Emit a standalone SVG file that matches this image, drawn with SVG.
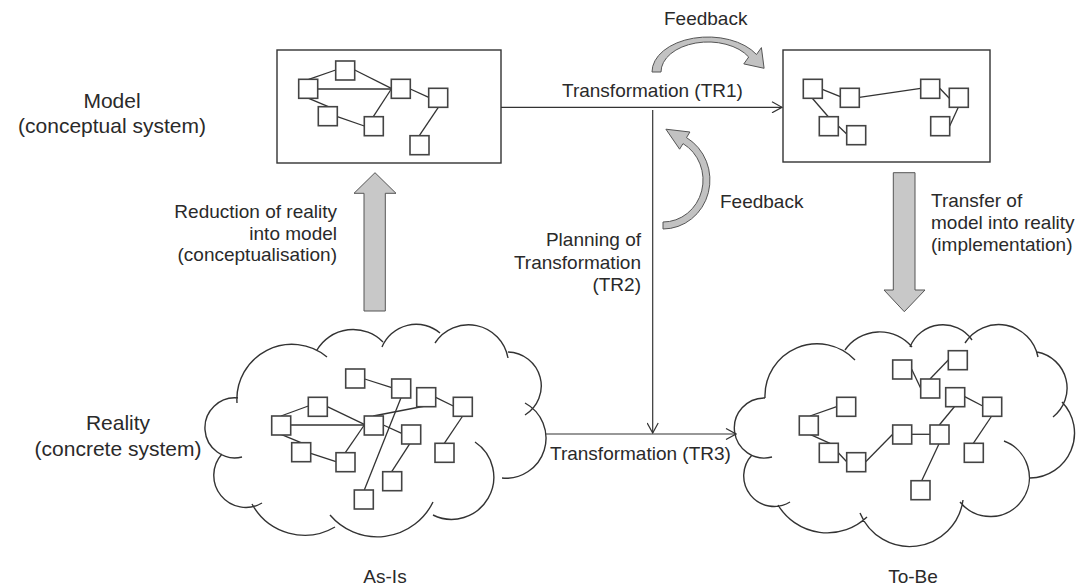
<svg xmlns="http://www.w3.org/2000/svg" width="1086" height="587" viewBox="0 0 1086 587">
<defs>
<style>
text{font-family:"Liberation Sans",Arial,sans-serif;font-size:19px;fill:#2a2a2a}
.lbl{font-size:21px}
.box{fill:#fff;stroke:#333;stroke-width:1.4}
.sq{fill:#fff;stroke:#444;stroke-width:1.6}
.ln{stroke:#333;stroke-width:1.3;fill:none}
.cloud{fill:none;stroke:#333;stroke-width:1.4}
.big{fill:#c8c8c8;stroke:#555;stroke-width:1}
.fb{fill:#c2c2c2;stroke:#555;stroke-width:1}
.con{stroke:#333;stroke-width:1.2;fill:none}
</style>
<marker id="open" viewBox="0 0 12 12" refX="11" refY="6" markerWidth="12" markerHeight="12" markerUnits="userSpaceOnUse" orient="auto">
<path d="M1,0.5 L11,6 L1,11.5" fill="none" stroke="#333" stroke-width="1.2"/>
</marker>
</defs>
<rect width="1086" height="587" fill="#fff"/>

<g id="model-box">
<rect class="box" x="277" y="50" width="224" height="113"/>
<g class="ln">
<line x1="308.7" y1="79.3" x2="335.7" y2="70"/>
<line x1="354.7" y1="70" x2="391.3" y2="88.3"/>
<line x1="317.7" y1="89" x2="391.3" y2="89"/>
<line x1="308.7" y1="98.3" x2="328.3" y2="106.7"/>
<line x1="337.3" y1="116.7" x2="364.3" y2="126"/>
<line x1="373.3" y1="116.7" x2="391.3" y2="89"/>
<line x1="410.3" y1="89" x2="428.7" y2="97.3"/>
<line x1="438.3" y1="107.3" x2="419.3" y2="135.7"/>
</g>
<rect class="sq" x="298.7" y="79.3" width="19" height="19"/>
<rect class="sq" x="335.7" y="61" width="19" height="19"/>
<rect class="sq" x="318.3" y="106.7" width="19" height="19"/>
<rect class="sq" x="364.3" y="116.7" width="19" height="19"/>
<rect class="sq" x="391.3" y="79.3" width="19" height="19"/>
<rect class="sq" x="428.7" y="88.3" width="19" height="19"/>
<rect class="sq" x="410" y="135.7" width="19" height="19"/>
</g>

<g id="target-model-box">
<rect class="box" x="783" y="50" width="207" height="112"/>
<g class="ln">
<line x1="822.3" y1="89.3" x2="840.3" y2="96.7"/>
<line x1="812.3" y1="98.3" x2="828.3" y2="116.7"/>
<line x1="838.3" y1="126" x2="846.7" y2="134"/>
<line x1="859.3" y1="97.3" x2="920.7" y2="88.3"/>
<line x1="939.7" y1="88.3" x2="949.3" y2="98.3"/>
<line x1="958.3" y1="107.3" x2="949.7" y2="126"/>
</g>
<rect class="sq" x="803.3" y="79.3" width="19" height="19"/>
<rect class="sq" x="840.3" y="88.3" width="19" height="19"/>
<rect class="sq" x="819.3" y="116.7" width="19" height="19"/>
<rect class="sq" x="846.7" y="125.7" width="19" height="19"/>
<rect class="sq" x="920.7" y="79.3" width="19" height="19"/>
<rect class="sq" x="949.3" y="88.3" width="19" height="19"/>
<rect class="sq" x="930.7" y="116.7" width="19" height="19"/>
</g>

<g id="as-is-cloud">
<path class="cloud" d="M237,403 A55,55 0 0,1 327,357 M317,350 A42,42 0 0,1 383,342 M382,347 A37,37 0 0,1 440,333 M435,343 A40,40 0 0,1 508,358 M508,352 A34,34 0 0,1 525,415 M525,403 A40,40 0 0,1 502,478 M475,442 A42.2,42.2 0 0,1 433,515 M433,502 A62,62 0 0,1 330,515 M335,527 A60,60 0 0,1 252,504 M262,503 A32,32 0 0,1 222,454 M242,457 A30,30 0 1,1 238,398"/>
<g class="ln">
<line x1="281" y1="416" x2="308.3" y2="406"/>
<line x1="327.3" y1="406.7" x2="364.3" y2="424.3"/>
<line x1="290.7" y1="425" x2="364.3" y2="425"/>
<line x1="281" y1="434.3" x2="301" y2="442.7"/>
<line x1="310.7" y1="453.3" x2="336" y2="461.7"/>
<line x1="345.3" y1="452.7" x2="364.3" y2="425"/>
<line x1="373.3" y1="416" x2="425" y2="406"/>
<line x1="383.3" y1="425" x2="401.7" y2="433.3"/>
<line x1="410" y1="443.3" x2="391.7" y2="471.7"/>
<line x1="364.7" y1="379" x2="391.7" y2="387.7"/>
<line x1="401" y1="397.7" x2="364.3" y2="490"/>
<line x1="435.7" y1="397.3" x2="453.3" y2="406"/>
<line x1="462.7" y1="416" x2="444.3" y2="443.3"/>
</g>
<rect class="sq" x="271.7" y="416" width="19" height="19"/>
<rect class="sq" x="308.3" y="397.3" width="19" height="19"/>
<rect class="sq" x="291.7" y="442.7" width="19" height="19"/>
<rect class="sq" x="336" y="452.7" width="19" height="19"/>
<rect class="sq" x="364.3" y="416" width="19" height="19"/>
<rect class="sq" x="345.7" y="369" width="19" height="19"/>
<rect class="sq" x="391.7" y="379" width="19" height="19"/>
<rect class="sq" x="416.7" y="387.7" width="19" height="19"/>
<rect class="sq" x="453.3" y="397.3" width="19" height="19"/>
<rect class="sq" x="401.7" y="425" width="19" height="19"/>
<rect class="sq" x="435" y="443.3" width="19" height="19"/>
<rect class="sq" x="382.7" y="471.7" width="19" height="19"/>
<rect class="sq" x="354.3" y="490" width="19" height="19"/>
</g>

<g id="to-be-cloud">
<path class="cloud" d="M765,398 A52.2,52.2 0 0,1 855,360 M845,350 A42.2,42.2 0 0,1 912,347 M910,347 A35.5,35.5 0 0,1 972,340 M965,343 A40,40 0 0,1 1038,357 M1037,352 A36.7,36.7 0 0,1 1053,417 M1062,402 A44.9,44.9 0 0,1 1030,478 M1004,441 A39,39 0 1,1 960,502 M963,500 A53.7,53.7 0 0,1 860,513 M867,517 A57.6,57.6 0 0,1 778,505 M790,502 A30.5,30.5 0 0,1 752,455 M772,457 A30,30 0 1,1 765,398"/>
<g class="ln">
<line x1="810" y1="416" x2="836.7" y2="406.7"/>
<line x1="810" y1="434.3" x2="830" y2="443.3"/>
<line x1="838.3" y1="452.7" x2="846.7" y2="461.7"/>
<line x1="865.7" y1="461.7" x2="892.7" y2="434.3"/>
<line x1="911.7" y1="434.3" x2="930" y2="434.3"/>
<line x1="939.3" y1="425" x2="955" y2="406"/>
<line x1="939.3" y1="443.3" x2="921.7" y2="480.7"/>
<line x1="964.7" y1="396.7" x2="982.7" y2="406"/>
<line x1="991.7" y1="416" x2="973.3" y2="443.3"/>
<line x1="911.7" y1="369.3" x2="920.7" y2="388.3"/>
<line x1="930" y1="379" x2="948.3" y2="360"/>
</g>
<rect class="sq" x="799.3" y="416" width="19" height="19"/>
<rect class="sq" x="836.7" y="397.3" width="19" height="19"/>
<rect class="sq" x="819.3" y="443.3" width="19" height="19"/>
<rect class="sq" x="846.7" y="452.7" width="19" height="19"/>
<rect class="sq" x="892.7" y="425" width="19" height="19"/>
<rect class="sq" x="930" y="425" width="19" height="19"/>
<rect class="sq" x="892.7" y="360" width="19" height="19"/>
<rect class="sq" x="920.7" y="379" width="19" height="19"/>
<rect class="sq" x="948.3" y="350.7" width="19" height="19"/>
<rect class="sq" x="945.7" y="387.7" width="19" height="19"/>
<rect class="sq" x="982.7" y="397.3" width="19" height="19"/>
<rect class="sq" x="964.3" y="443.3" width="19" height="19"/>
<rect class="sq" x="911" y="480.7" width="19" height="19"/>
</g>

<g id="connectors">
<line class="con" x1="501" y1="107.3" x2="782" y2="107.3" marker-end="url(#open)"/>
<line class="con" x1="652.7" y1="110" x2="652.7" y2="433" marker-end="url(#open)"/>
<line class="con" x1="546" y1="434" x2="736" y2="434" marker-end="url(#open)"/>
<polygon class="big" points="364,311 364,193.3 354,193.3 375,172.7 396,193.3 385.3,193.3 385.3,311"/>
<polygon class="big" points="893.3,172.7 915,172.7 915,290 925,290 904.3,311.7 884,290 893.3,290"/>
<path class="fb" d="M652,72 A56,35 0 0,1 756.5,54.5 L761.4,47.6 L764.1,68.3 L743.8,63.9 L748.7,57 A47,30 0 0,0 661,72 Z"/>
<path class="fb" d="M663,229 A47,49 0 0,0 686.5,137.6 L689.9,132 L665.9,129.2 L679.6,149.2 L683,143.6 A40,42 0 0,1 663,222 Z"/>
</g>

<g id="labels">
<text x="664" y="25">Feedback</text>
<text x="562" y="96.5">Transformation (TR1)</text>
<text class="lbl" x="112" y="108" text-anchor="middle">Model</text>
<text class="lbl" x="112" y="133" text-anchor="middle">(conceptual system)</text>
<text x="337" y="217.5" text-anchor="end">Reduction of reality</text>
<text x="337" y="239.5" text-anchor="end">into model</text>
<text x="337" y="260.5" text-anchor="end">(conceptualisation)</text>
<text x="641" y="246" text-anchor="end">Planning of</text>
<text x="641" y="268.5" text-anchor="end">Transformation</text>
<text x="641" y="291" text-anchor="end">(TR2)</text>
<text x="720" y="208">Feedback</text>
<text x="931" y="207">Transfer of</text>
<text x="931" y="229">model into reality</text>
<text x="931" y="251">(implementation)</text>
<text class="lbl" x="118" y="430" text-anchor="middle">Reality</text>
<text class="lbl" x="118" y="456" text-anchor="middle">(concrete system)</text>
<text x="550" y="460">Transformation (TR3)</text>
<text x="385" y="583" text-anchor="middle">As-Is</text>
<text x="913" y="583" text-anchor="middle">To-Be</text>
</g>
</svg>
